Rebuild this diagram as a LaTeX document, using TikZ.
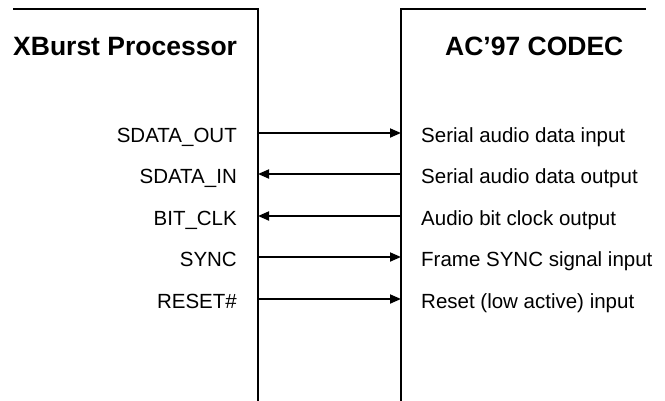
\documentclass[tikz,border=0pt]{standalone}
\usepackage{fontspec}
\setmainfont{Liberation Sans}
\usetikzlibrary{arrows.meta}
\begin{document}
\begin{tikzpicture}[x=1pt,y=-1pt,
  wire/.style={line width=1.8pt},
  sig/.style={line width=1.8pt,-{Triangle[length=11pt,width=9pt]}},
  lbl/.style={inner sep=0pt,font=\fontsize{20.5}{24}\selectfont},
  ttl/.style={inner sep=0pt,font=\fontsize{26.5}{32}\selectfont\bfseries}]
\useasboundingbox (0,0) rectangle (665,400);
% boxes
\coordinate (LT) at (13,9);
\coordinate (LC) at (258,9);
\coordinate (LB) at (258,401);
\coordinate (RT) at (646,9);
\coordinate (RC) at (401,9);
\coordinate (RB) at (401,401);
\draw[wire] (LT) -- (LC) -- (LB);
\draw[wire] (RT) -- (RC) -- (RB);
\node[ttl,anchor=base west] (tl) at (13,55) {XBurst Processor};
\node[ttl,anchor=base west] (tr) at (445,55) {AC’97 CODEC};
% signals
\foreach \i/\y/\ln/\rn in {
  1/133/SDATA\_OUT/Serial audio data input,
  2/174/SDATA\_IN/Serial audio data output,
  3/216/BIT\_CLK/Audio bit clock output,
  4/257/SYNC/Frame SYNC signal input,
  5/299/RESET\#/Reset (low active) input}{
  \coordinate (a\i) at (258,\y);
  \coordinate (b\i) at (401,\y);
  \node[lbl,anchor=base east] (l\i) at (237,\y+9.7) {\ln};
  \node[lbl,anchor=base west] (r\i) at (421,\y+9.7) {\rn};
}
\draw[sig] (a1) -- (b1);
\draw[sig] (b2) -- (a2);
\draw[sig] (b3) -- (a3);
\draw[sig] (a4) -- (b4);
\draw[sig] (a5) -- (b5);
\end{tikzpicture}
\end{document}
